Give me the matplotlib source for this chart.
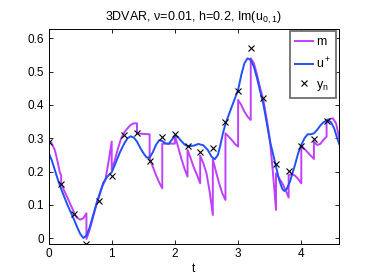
import matplotlib
matplotlib.use("Agg")
import matplotlib.pyplot as plt

plt.rcParams['font.family'] = ['Liberation Sans', 'DejaVu Sans']
plt.rcParams['mathtext.default'] = 'regular'
plt.rcParams['font.size'] = 8.5

# observation times and values (x markers)
obs_t = [0.0, 0.2, 0.4, 0.6, 0.8, 1.0, 1.2, 1.4, 1.6, 1.8, 2.0, 2.2,
         2.4, 2.6, 2.8, 3.0, 3.2, 3.4, 3.6, 3.8, 4.0, 4.2, 4.4]
obs_y = [0.290, 0.162, 0.074, -0.017, 0.111, 0.188, 0.310, 0.316, 0.232,
         0.304, 0.312, 0.277, 0.260, 0.272, 0.350, 0.443, 0.570, 0.422,
         0.224, 0.203, 0.278, 0.298, 0.353]

# truth u+ (blue)
u_t = [0.00, 0.05, 0.10, 0.15, 0.20, 0.30, 0.40, 0.45, 0.50, 0.55, 0.60,
       0.65, 0.70, 0.76, 0.82, 0.87, 0.93, 1.00, 1.06, 1.13, 1.20, 1.25,
       1.30, 1.35, 1.40, 1.45, 1.50, 1.55, 1.60, 1.65, 1.70, 1.75, 1.80,
       1.85, 1.90, 1.95, 2.00, 2.05, 2.10, 2.15, 2.20, 2.30, 2.37, 2.45,
       2.52, 2.58, 2.63, 2.68, 2.72, 2.76, 2.80, 2.90, 3.00, 3.05, 3.10,
       3.15, 3.20, 3.25, 3.30, 3.35, 3.40, 3.45, 3.50, 3.55, 3.60, 3.65,
       3.70, 3.73, 3.77, 3.82, 3.90, 3.95, 4.00, 4.05, 4.10, 4.15, 4.20,
       4.25, 4.30, 4.35, 4.42, 4.47, 4.52, 4.56, 4.60]
u_y = [0.257, 0.235, 0.205, 0.175, 0.148, 0.100, 0.058, 0.035, 0.014, 0.001,
       0.008, 0.032, 0.065, 0.105, 0.140, 0.168, 0.185, 0.198, 0.225, 0.258,
       0.285, 0.300, 0.306, 0.302, 0.290, 0.272, 0.256, 0.243, 0.242, 0.258,
       0.280, 0.294, 0.292, 0.285, 0.283, 0.295, 0.308, 0.303, 0.292, 0.282,
       0.276, 0.278, 0.283, 0.279, 0.265, 0.245, 0.237, 0.250, 0.280, 0.315,
       0.343, 0.395, 0.445, 0.490, 0.525, 0.540, 0.535, 0.515, 0.480, 0.440,
       0.402, 0.350, 0.295, 0.255, 0.215, 0.175, 0.148, 0.142, 0.148, 0.170,
       0.220, 0.255, 0.280, 0.300, 0.312, 0.312, 0.315, 0.325, 0.338, 0.348,
       0.355, 0.348, 0.330, 0.305, 0.283]

# 3DVAR estimate m (magenta), repeated t = jump at an observation
m_t = [0.00, 0.05, 0.10, 0.15, 0.18, 0.20, 0.20, 0.25, 0.30, 0.35, 0.40,
       0.40, 0.45, 0.50, 0.55, 0.60, 0.60, 0.65, 0.70, 0.75, 0.80, 0.85,
       0.90, 0.95, 1.00, 1.00, 1.05, 1.10, 1.15, 1.20, 1.25, 1.30, 1.35,
       1.40, 1.40, 1.50, 1.60, 1.60, 1.65, 1.70, 1.75, 1.80, 1.80, 2.00,
       2.00, 2.05, 2.10, 2.15, 2.20, 2.20, 2.25, 2.30, 2.35, 2.40, 2.40,
       2.45, 2.50, 2.55, 2.60, 2.60, 2.65, 2.70, 2.75, 2.80, 2.80, 2.85,
       2.90, 2.95, 3.00, 3.00, 3.05, 3.10, 3.15, 3.20, 3.20, 3.25, 3.30,
       3.35, 3.40, 3.45, 3.50, 3.55, 3.60, 3.60, 3.65, 3.70, 3.75, 3.80,
       3.80, 3.85, 3.90, 3.95, 4.00, 4.00, 4.05, 4.10, 4.15, 4.20, 4.20,
       4.25, 4.30, 4.35, 4.40, 4.40, 4.45, 4.50, 4.55, 4.60]
m_y = [0.293, 0.285, 0.265, 0.225, 0.197, 0.190, 0.165, 0.142, 0.122, 0.100,
       0.080, 0.075, 0.062, 0.056, 0.060, 0.075, -0.002, 0.025, 0.060, 0.095,
       0.125, 0.155, 0.175, 0.230, 0.290, 0.205, 0.235, 0.270, 0.300, 0.318,
       0.330, 0.340, 0.345, 0.345, 0.315, 0.313, 0.312, 0.240, 0.215, 0.190,
       0.168, 0.150, 0.284, 0.284, 0.308, 0.275, 0.240, 0.210, 0.185, 0.265,
       0.240, 0.212, 0.190, 0.165, 0.248, 0.225, 0.195, 0.140, 0.070, 0.237,
       0.200, 0.165, 0.135, 0.115, 0.315, 0.305, 0.295, 0.283, 0.275, 0.415,
       0.400, 0.380, 0.365, 0.355, 0.540, 0.525, 0.490, 0.450, 0.415, 0.360,
       0.300, 0.200, 0.085, 0.195, 0.180, 0.165, 0.145, 0.122, 0.190, 0.192,
       0.188, 0.178, 0.165, 0.278, 0.268, 0.258, 0.248, 0.238, 0.290, 0.280,
       0.283, 0.295, 0.305, 0.355, 0.358, 0.360, 0.345, 0.300]

fig = plt.figure(figsize=(3.74, 2.8), dpi=100)
ax = fig.add_axes([0.1297, 0.1275, 0.7773, 0.7679])

ax.plot(m_t, m_y, color='#c040ff', lw=1.4, label='m')
ax.plot(u_t, u_y, color='#2050ff', lw=1.4, label='u$^+$')
ax.plot(obs_t, obs_y, 'x', color='black', ms=4, mew=0.8, label='y$_n$')

ax.set_xlim(0, 4.6)
ax.set_ylim(-0.018, 0.627)
ax.set_xticks([0, 1, 2, 3, 4])
ax.set_yticks([0, 0.1, 0.2, 0.3, 0.4, 0.5, 0.6])
ax.set_yticklabels(['0', '0.1', '0.2', '0.3', '0.4', '0.5', '0.6'])
ax.tick_params(direction='in', top=True, right=True, length=3, width=0.6,
               labelsize=8.5, pad=3)
for s in ax.spines.values():
    s.set_linewidth(0.7)

ax.set_xlabel('t', labelpad=1.5)
ax.set_title('3DVAR, \u03bd=0.01, h=0.2, Im(u$_{0,1}$)', fontsize=9, pad=6)

leg = ax.legend(loc='upper right', bbox_to_anchor=(0.99, 0.99),
                borderaxespad=0, fancybox=False, handlelength=1.45,
                handletextpad=0.2, labelspacing=0.6, borderpad=0.4,
                fontsize=9, framealpha=1)
leg.get_frame().set_edgecolor('#707070')
leg.get_frame().set_linewidth(1.3)

fig.savefig('out.png', dpi=100)
